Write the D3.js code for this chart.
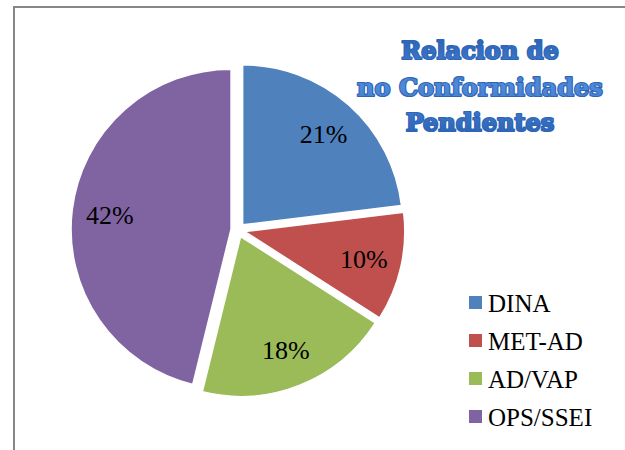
<!DOCTYPE html>
<html>
<head>
<meta charset="utf-8">
<script src="https://cdn.jsdelivr.net/npm/d3@7"></script>
<style>
  html, body { margin: 0; padding: 0; background: #fff; }
  svg { display: block; }
</style>
</head>
<body>
<svg id="chart" width="625" height="450"></svg>
<script>
// data
let categories = ['DINA', 'MET-AD', 'AD/VAP', 'OPS/SSEI'];
let values = [21, 10, 18, 42];
let labels = ['21%', '10%', '18%', '42%'];
let colors = ['#4f81bd', '#c0504d', '#9bbb59', '#8064a2'];
let titleLines = ['Relacion de', 'no Conformidades', 'Pendientes'];

let svg = d3.select('#chart');
let W = 625, H = 450;

// frame (only top + left are visible in the crop)
svg.append('path')
    .attr('d', `M14,${H} L14,7 L${W},7`)
    .attr('fill', 'none')
    .attr('stroke', '#868686')
    .attr('stroke-width', 2);

let cx = 238, cy = 230, R = 160, explode = 7, labelR = 122;

let pie = d3.pie().sort(null).value(d => d);
let arcs = pie(values);
let arc = d3.arc().innerRadius(0).outerRadius(R);
let labelArc = d3.arc().innerRadius(labelR).outerRadius(labelR);

let g = svg.append('g').attr('transform', `translate(${cx},${cy})`);

let slices = g.selectAll('g.slice')
    .data(arcs)
    .enter().append('g')
    .attr('class', 'slice')
    .attr('transform', d => {
        let a = (d.startAngle + d.endAngle) / 2;
        return `translate(${explode * Math.sin(a)},${-explode * Math.cos(a)})`;
    });

slices.append('path')
    .attr('d', arc)
    .attr('fill', (d, i) => colors[i])
    .attr('stroke', '#fff')
    .attr('stroke-width', 1.5);

slices.append('text')
    .attr('transform', d => `translate(${labelArc.centroid(d)})`)
    .attr('text-anchor', 'middle')
    .attr('dy', '0.35em')
    .style('font-family', '"Liberation Serif", serif')
    .style('font-size', '26px')
    .attr('fill', '#000')
    .text((d, i) => labels[i]);

// title, heavy blue word-art look
let defs = svg.append('defs');
let grad = defs.append('linearGradient')
    .attr('id', 'titleGrad')
    .attr('x1', 0).attr('y1', 0).attr('x2', 0).attr('y2', 1);
grad.append('stop').attr('offset', '0%').attr('stop-color', '#2a62b4');
grad.append('stop').attr('offset', '50%').attr('stop-color', '#4f8ad8');
grad.append('stop').attr('offset', '100%').attr('stop-color', '#2a62b4');

let titleY = [59, 96, 131];

function titleText(fill, stroke, sw) {
    let t = svg.append('text')
        .attr('text-anchor', 'middle')
        .style('font-family', '"DejaVu Serif", serif')
        .style('font-weight', 'bold')
        .style('font-size', '24px')
        .attr('fill', fill)
        .attr('stroke', stroke)
        .attr('stroke-width', sw)
        .attr('stroke-linejoin', 'round');
    titleLines.forEach((line, i) => {
        t.append('tspan')
            .attr('x', 480)
            .attr('y', titleY[i])
            .text(line);
    });
    return t;
}

titleText('#2c64b6', '#2c64b6', 2.2);
titleText('url(#titleGrad)', 'none', 0);

// legend
let legend = svg.append('g').attr('transform', 'translate(469,303)');
let rows = legend.selectAll('g')
    .data(categories)
    .enter().append('g')
    .attr('transform', (d, i) => `translate(0,${i * 38})`);

rows.append('rect')
    .attr('x', 0).attr('y', -7)
    .attr('width', 13).attr('height', 13)
    .attr('fill', (d, i) => colors[i]);

rows.append('text')
    .attr('x', 19)
    .attr('dy', '0.35em')
    .style('font-family', '"Liberation Serif", serif')
    .style('font-size', '25px')
    .attr('fill', '#000')
    .text(d => d);
</script>
</body>
</html>
